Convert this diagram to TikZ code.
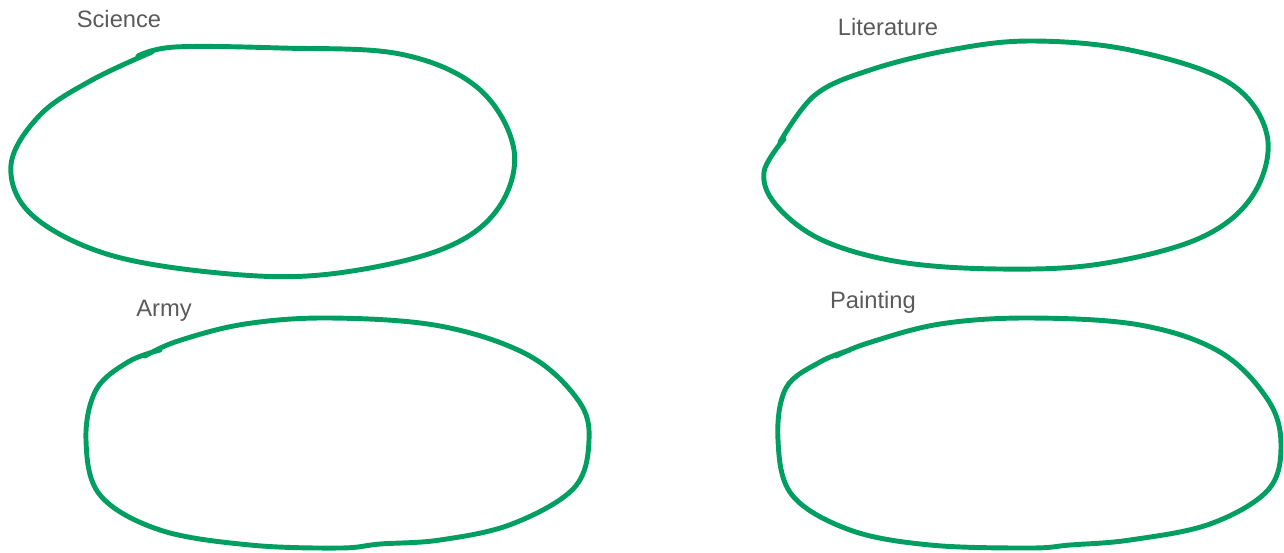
\documentclass[tikz,border=0pt]{standalone}
\usepackage{fontspec}
\setmainfont{Liberation Sans}
\usepackage{tikz}
\usetikzlibrary{positioning}
\definecolor{loopgreen}{RGB}{0,158,96}
\definecolor{labelgray}{RGB}{90,90,90}

\begin{document}
\begin{tikzpicture}[
			x=0.02cm,
			y=-0.02cm,
			every node/.style={
					text=labelgray,
					inner sep=0pt,
					font=\fontsize{13.5}{16}\selectfont
				},
			loop/.style={
					draw=loopgreen,
					line width=2.8pt,
					line cap=round,
					line join=round
				}
		]
		\useasboundingbox (0,0) rectangle (1284,552);

		% labels
		\node (science) at (119,19) {Science};
		\node (literature) at (888,27) {Literature};
		\node (army) at (164,311) {Army};
		\node (painting) at (873,302) {Painting};

		% Science
		\draw[loop] plot[smooth, tension=0.6] coordinates {
			(138,56) (175,47) (280,48) (400,54) (478,88) (514,150)
			(497,210) (440,250) (330,274) (230,274) (110,255) (32,215)
			(11,165) (40,115) (92,80) (152,52)};

		% Literature
		\draw[loop] plot[smooth, tension=0.6] coordinates {
			(780,142) (815,95) (870,70) (950,50) (1030,41) (1130,50)
			(1228,82) (1267,135) (1253,195) (1200,238) (1100,264)
			(1000,269) (900,262) (822,240) (776,205) (764,172) (784,139)};

		% Army
		\draw[loop] plot[smooth, tension=0.6] coordinates {
			(145,356) (178,341) (245,324) (330,318) (440,326) (528,355)
			(578,400) (589,440) (574,488) (512,524) (440,540) (380,544)
			(340,548) (250,545) (160,530) (100,495) (86,440) (96,390)
			(128,362) (160,350)};

		% Painting
		\draw[loop] plot[smooth, tension=0.6] coordinates {
			(836,356) (868,343) (940,324) (1030,318) (1140,325) (1220,352)
			(1268,400) (1281,445) (1268,490) (1210,524) (1130,540) (1070,545)
			(1030,548) (930,545) (850,530) (792,495) (778,440) (786,388)
			(820,362) (850,350)};
	\end{tikzpicture}
\end{document}
